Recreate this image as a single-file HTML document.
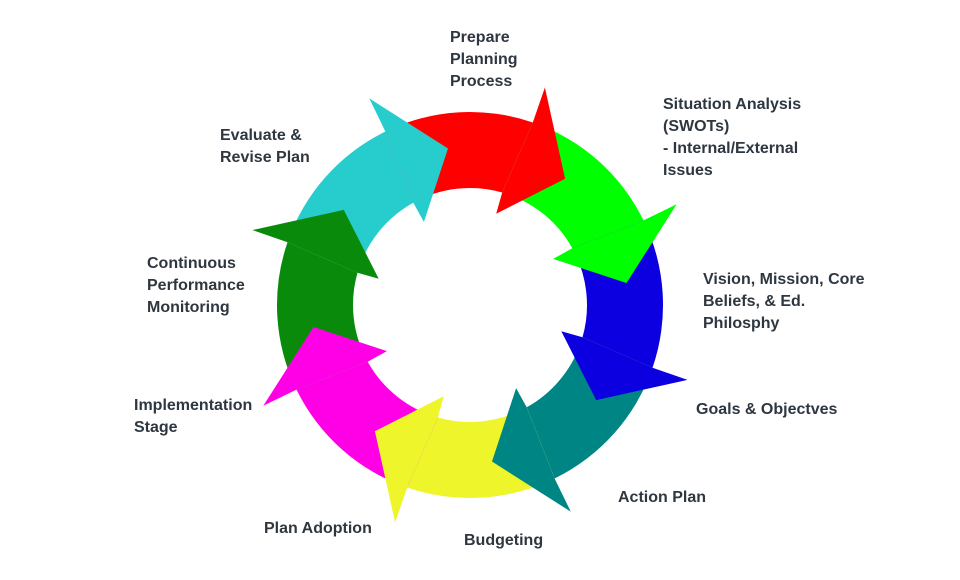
<!DOCTYPE html>
<html><head><meta charset="utf-8"><style>
html,body{margin:0;padding:0;background:#fff;}
body{width:960px;height:580px;position:relative;overflow:hidden;font-family:"Liberation Sans",sans-serif;}
.t{position:absolute;color:#2e3740;font-weight:bold;font-size:16px;line-height:22px;white-space:nowrap;}
svg{position:absolute;left:0;top:0;}
</style></head><body>
<svg id="s" width="960" height="580" viewBox="0 0 960 580"></svg>
<div class="t" style="left:450px;top:27px">Prepare<br>Planning<br>Process</div>
<div class="t" style="left:663px;top:94px">Situation Analysis<br>(SWOTs)<br>- Internal/External<br>Issues</div>
<div class="t" style="left:703px;top:269px">Vision, Mission, Core<br>Beliefs, &amp; Ed.<br>Philosphy</div>
<div class="t" style="left:696px;top:399px">Goals &amp; Objectves</div>
<div class="t" style="left:618px;top:487px">Action Plan</div>
<div class="t" style="left:464px;top:530px">Budgeting</div>
<div class="t" style="left:264px;top:518px">Plan Adoption</div>
<div class="t" style="left:134px;top:395px">Implementation<br>Stage</div>
<div class="t" style="left:147px;top:253px">Continuous<br>Performance<br>Monitoring</div>
<div class="t" style="left:220px;top:125px">Evaluate &amp;<br>Revise Plan</div>
<script>
(function(){
var cx=470,cy=305,ri=117,ro=193,wi=95,wo=230,rt=158;
var cols=["#ff0000","#00ff00","#0c00e0","#008585","#eef52a","#ff00e6","#0a8a0a","#27cccc"];
function p(r,a){a=a*Math.PI/180;return (cx+r*Math.sin(a)).toFixed(1)+","+(cy-r*Math.cos(a)).toFixed(1);}
var bodies="",heads="";
for(var k=0;k<8;k++){
 var b=19+45*k,bi=b-3,a0=b-45,ai=bi-45,t=b+18;
 var body="M"+p(ro,a0)+" A"+ro+","+ro+" 0 0 1 "+p(ro,b)+" L"+p(ri,bi)+" A"+ri+","+ri+" 0 0 0 "+p(ri,ai)+" Z";
 var head="M"+p(ro,b)+" L"+p(wo,b)+" L"+p(rt,t)+" L"+p(wi,bi)+" L"+p(ri,bi)+" Z";
 bodies+='<path d="'+body+'" fill="'+cols[k]+'"/>';
 heads+='<path d="'+head+'" fill="'+cols[k]+'"/>';
}
document.getElementById("s").innerHTML=bodies+heads;
})();
</script>
</body></html>
